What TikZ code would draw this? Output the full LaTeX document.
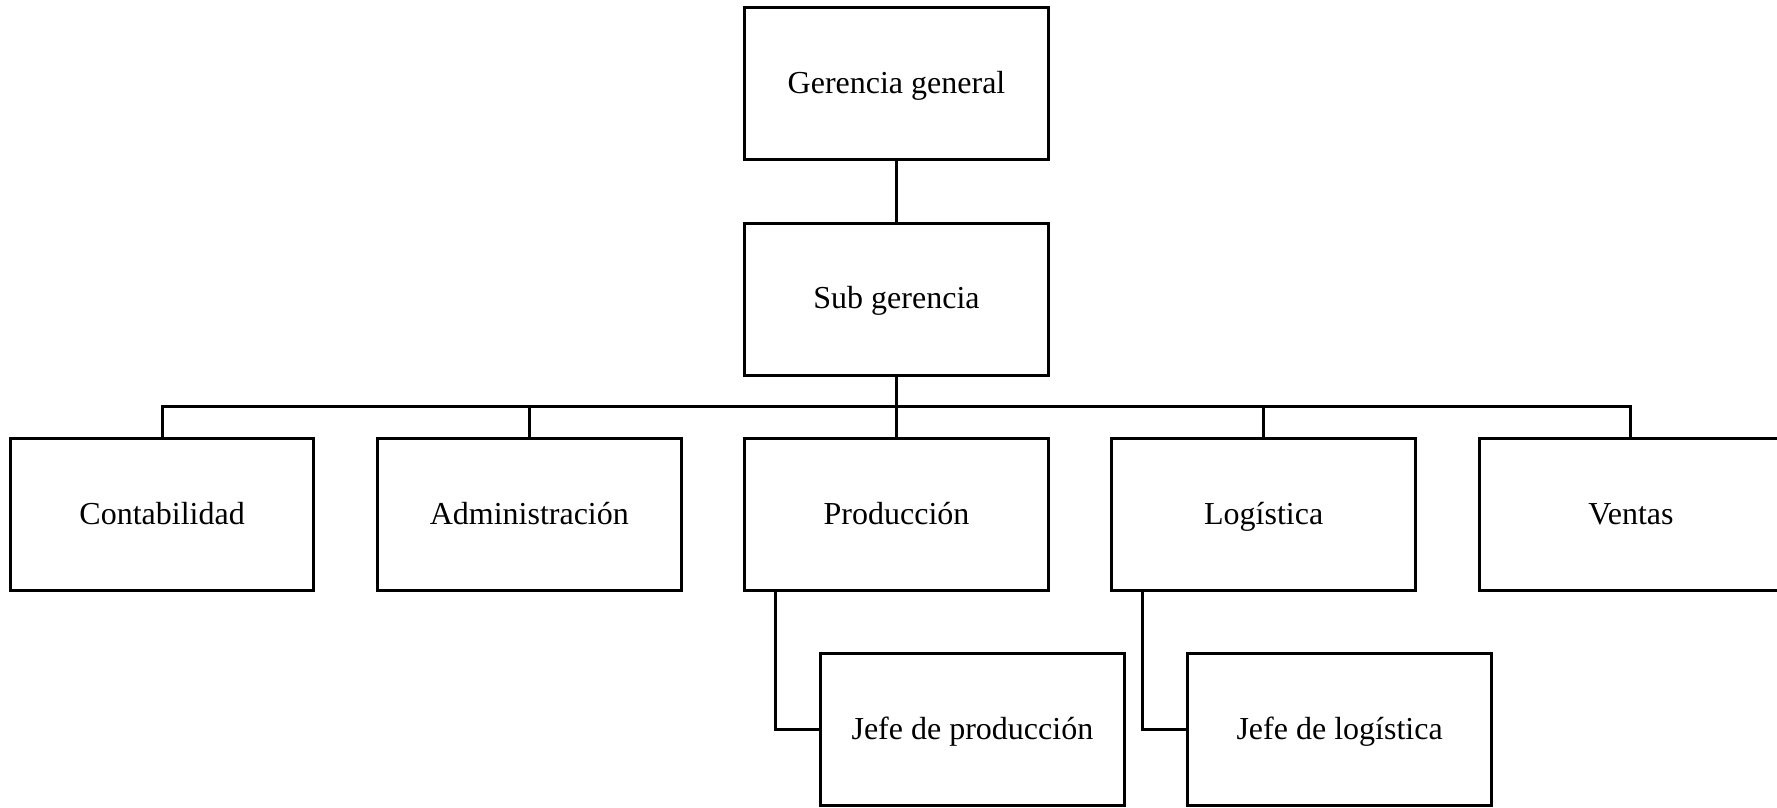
\documentclass[tikz,border=0pt]{standalone}
\usepackage{fontspec}
\setmainfont{Liberation Serif}
\begin{document}
\begin{tikzpicture}[x=0.4pt,y=-0.4pt,
  box/.style={draw=black,line width=1.2pt,fill=white,minimum width=121.5pt,minimum height=60.76pt,inner sep=0pt,outer sep=0pt,text height=8.7pt,text depth=1pt,font=\fontsize{12.8}{15}\selectfont},
  link/.style={draw=black,line width=1.2pt}]
\useasboundingbox (0,0) rectangle (1777,807);
\node[box] (gg) at (896.5,83.8) {Gerencia general};
\node[box] (sg) at (896.5,299.2) {Sub gerencia};
\node[box] (c1) at (162.1,514.5) {Contabilidad};
\node[box] (c2) at (529.3,514.5) {Administración};
\node[box] (c3) at (896.5,514.5) {Producción};
\node[box] (c4) at (1263.7,514.5) {Logística};
\node[box] (c5) at (1630.9,514.5) {Ventas};
\node[box] (jp) at (972.4,729.9) {Jefe de producción};
\node[box] (jl) at (1339.6,729.9) {Jefe de logística};
\coordinate (bus) at (896.5,406.9);
\draw[link] (gg.south) -- (sg.north);
\draw[link] (sg.south) -- (bus);
\draw[link] (c1.north) -- (c1.north |- bus) -- (c5.north |- bus) -- (c5.north);
\draw[link] (c2.north) -- (c2.north |- bus);
\draw[link] (c3.north) -- (bus);
\draw[link] (c4.north) -- (c4.north |- bus);
\draw[link] ([xshift=12.2pt]c3.south west) |- (jp.west);
\draw[link] ([xshift=12.2pt]c4.south west) |- (jl.west);
\end{tikzpicture}
\end{document}
